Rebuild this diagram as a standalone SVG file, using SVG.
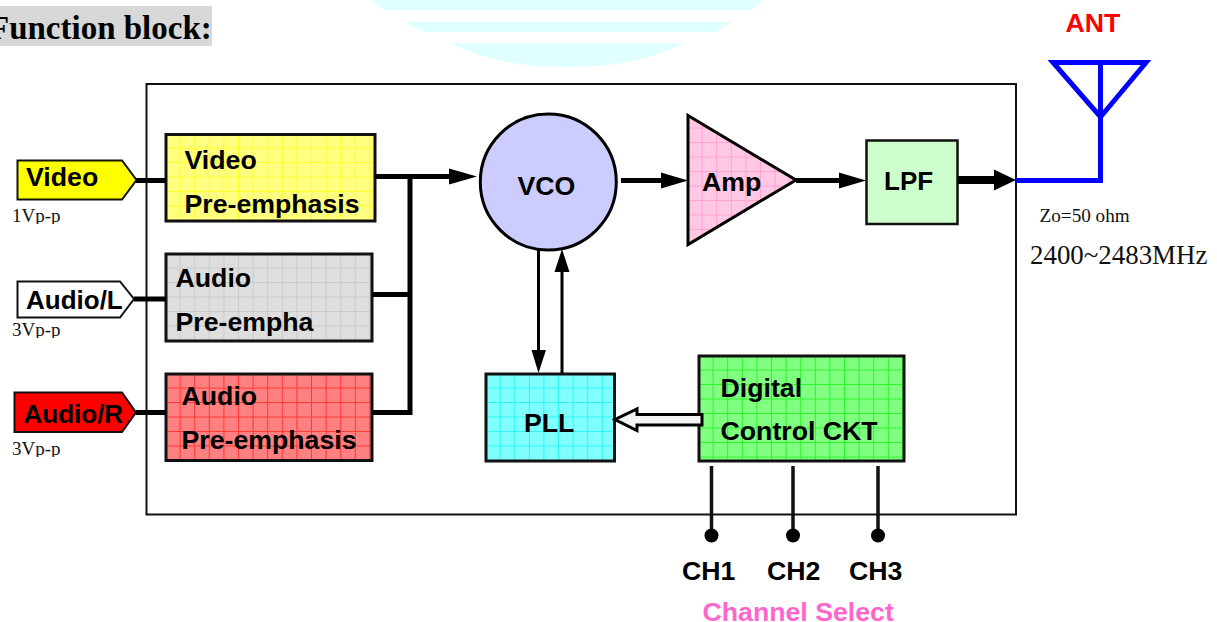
<svg xmlns="http://www.w3.org/2000/svg" width="1217" height="622" viewBox="0 0 1217 622">
<style>
.b{font-family:"Liberation Sans",Arial,sans-serif;font-weight:bold;font-size:26.7px;fill:#000}
.s{font-family:"Liberation Serif","Times New Roman",serif;fill:#111}
.box{stroke:#111;stroke-width:3}
.w{fill:none;stroke:#000;stroke-width:5}
.ant{fill:none;stroke:#0000ff;stroke-width:5}
.h{fill:#000}
.g{fill:none;stroke-opacity:.65}
</style>
<defs>
<pattern id="gy" patternUnits="userSpaceOnUse" x="166" y="134" width="14.6" height="14.5"><rect width="14.6" height="14.5" fill="#ffff80"/><path class="g" d="M14.1 0V14.5M0 14H14.6" stroke="#ffff00"/></pattern>
<pattern id="gg" patternUnits="userSpaceOnUse" x="166" y="254" width="14.6" height="14.5"><rect width="14.6" height="14.5" fill="#dedede"/><path class="g" d="M14.1 0V14.5M0 14H14.6" stroke="#c0c0c0"/></pattern>
<pattern id="gr" patternUnits="userSpaceOnUse" x="166" y="374" width="14.6" height="14.5"><rect width="14.6" height="14.5" fill="#ff8080"/><path class="g" d="M14.1 0V14.5M0 14H14.6" stroke="#ff1010"/></pattern>
<pattern id="gc" patternUnits="userSpaceOnUse" x="486" y="374" width="14.6" height="14.5"><rect width="14.6" height="14.5" fill="#80ffff"/><path class="g" d="M14.1 0V14.5M0 14H14.6" stroke="#00eeee"/></pattern>
<pattern id="gl" patternUnits="userSpaceOnUse" x="699" y="356" width="14.6" height="14.5"><rect width="14.6" height="14.5" fill="#80ff80"/><path class="g" d="M14.1 0V14.5M0 14H14.6" stroke="#00ee00"/></pattern>
<pattern id="gp" patternUnits="userSpaceOnUse" x="688" y="114" width="14.6" height="14.5"><rect width="14.6" height="14.5" fill="#ffc8e4"/><path class="g" d="M14.1 0V14.5M0 14H14.6" stroke="#ff90c8"/></pattern>
<clipPath id="c1"><rect x="0" y="205" width="100" height="19"/></clipPath>
<clipPath id="c2"><rect x="0" y="318" width="100" height="20"/></clipPath>
<clipPath id="c3"><rect x="0" y="436" width="100" height="21"/></clipPath>
</defs>

<g id="logo-watermark" fill="#e0ffff">
<path d="M372 0H762L752 10H384Z"/>
<path d="M405 22H732L716 32H425Z"/>
<path d="M451 43H684C655 58 620 67 567 67C515 67 480 58 451 43Z"/>
</g>

<g id="title">
<rect x="0" y="6" width="212" height="40" fill="#d8d8d8"/>
<text x="-11" y="39" font-family="'Liberation Serif','Times New Roman',serif" font-weight="bold" font-size="33" fill="#000">Function block:</text>
</g>

<rect id="frame" x="146.500" y="84" width="869.500" height="430.500" fill="none" stroke="#111" stroke-width="2"/>

<g id="in-video"><path d="M17.500 160.500H122L136.500 180L122 199.500H17.500Z" fill="#ffff00" stroke="#111" stroke-width="2"/><text class="b" x="26" y="186">Video</text><text class="s" x="12" y="222" font-size="19" clip-path="url(#c1)">1Vp-p</text></g>
<g id="in-audio-l"><path d="M17.500 281.500H120L134 299L120 317.500H17.500Z" fill="#fff" stroke="#111" stroke-width="2"/><text class="b" x="26" y="309" style="font-size:26px">Audio/L</text><text class="s" x="12" y="336" font-size="19" clip-path="url(#c2)">3Vp-p</text></g>
<g id="in-audio-r"><path d="M14.500 392.500H122L136 412.500L122 432H14.500Z" fill="#ff0000" stroke="#111" stroke-width="2"/><text class="b" x="23.500" y="423" style="font-size:26px">Audio/R</text><text class="s" x="12" y="455" font-size="19" clip-path="url(#c3)">3Vp-p</text></g>

<g id="video-pre"><rect class="box" x="166" y="134.500" width="209" height="86.500" fill="url(#gy)"/><text class="b" x="184.500" y="169">Video</text><text class="b" x="184.500" y="213">Pre-emphasis</text></g>
<g id="audio-pre-l"><rect class="box" x="166" y="254" width="206" height="87" fill="url(#gg)"/><text class="b" x="175.500" y="287">Audio</text><text class="b" x="175.500" y="331">Pre-empha</text></g>
<g id="audio-pre-r"><rect class="box" x="166" y="374" width="206" height="86.500" fill="url(#gr)"/><text class="b" x="181.500" y="405">Audio</text><text class="b" x="181.500" y="449">Pre-emphasis</text></g>

<g id="vco"><circle cx="548.300" cy="182" r="68" fill="#ccccff" stroke="#000" stroke-width="3"/><text class="b" x="517.500" y="195">VCO</text></g>
<g id="amp"><path d="M688 115.500L796 180L688 244.500Z" fill="url(#gp)" stroke="#000" stroke-width="3"/><text class="b" x="702" y="191">Amp</text></g>
<g id="lpf"><rect x="866.500" y="140.500" width="91" height="83.500" fill="#ccffcc" stroke="#111" stroke-width="2.500"/><text class="b" x="884" y="190" style="font-size:26px">LPF</text></g>
<g id="pll"><rect class="box" x="486" y="374" width="128.500" height="87" fill="url(#gc)"/><text class="b" x="524" y="432">PLL</text></g>
<g id="digital"><rect class="box" x="699" y="356" width="205" height="105" fill="url(#gl)"/><text class="b" x="720.500" y="397">Digital</text><text class="b" x="720.500" y="440">Control CKT</text></g>

<g id="connectors">
<path class="w" d="M136 180.500H166"/>
<path class="w" d="M134 299H166"/>
<path class="w" d="M136 412.500H166"/>
<path class="w" d="M375 176.500H450"/>
<path class="w" d="M372 294.500H410"/>
<path class="w" d="M372 412.500H412M410 176V415"/>
<path class="h" d="M449 168.500L477 176.500L449 184.500Z"/>
<path class="w" d="M621 180.500H662"/>
<path class="h" d="M661 172.500L688 180.500L661 188.500Z"/>
<path class="w" d="M796 180.500H840"/>
<path class="h" d="M839 172.500L866 180.500L839 188.500Z"/>
<path fill="none" stroke="#000" stroke-width="8" d="M958 180H996"/>
<path class="h" d="M994 169.500L1016 180L994 190.500Z"/>
<path fill="none" stroke="#000" stroke-width="3" d="M538.500 250V352"/>
<path class="h" d="M531.500 350H546L538.500 373Z"/>
<path fill="none" stroke="#000" stroke-width="3" d="M562 373V268"/>
<path class="h" d="M554.500 272H569.500L562 249Z"/>
<path fill="#f4f4f4" stroke="#000" stroke-width="3" d="M702 414.500H637V409L615 419.500L637 430.500V425H702Z"/>
<path fill="none" stroke="#111" stroke-width="3.500" d="M711.500 466V535M793 466V535M878 466V535"/>
<circle cx="711.500" cy="535.500" r="7" class="h"/>
<circle cx="793" cy="535.500" r="7" class="h"/>
<circle cx="878" cy="535.500" r="7" class="h"/>
<path class="ant" d="M1016 180.500H1100.500V61"/>
<path class="ant" d="M1053 62.500H1146L1100.500 117Z"/>
</g>

<g id="labels">
<text x="1065.500" y="32" font-family="'Liberation Sans',Arial,sans-serif" font-weight="bold" font-size="26.700" fill="#ff0000">ANT</text>
<text class="s" x="1039.500" y="222" font-size="19.200">Zo=50 ohm</text>
<text class="s" x="1030" y="264" font-size="26.900">2400~2483MHz</text>
<text class="b" x="682" y="580">CH1</text>
<text class="b" x="767" y="580">CH2</text>
<text class="b" x="849" y="580">CH3</text>
<text x="702.500" y="620.500" font-family="'Liberation Sans',Arial,sans-serif" font-weight="bold" font-size="26.700" fill="#ff66cc">Channel Select</text>
</g>
</svg>
